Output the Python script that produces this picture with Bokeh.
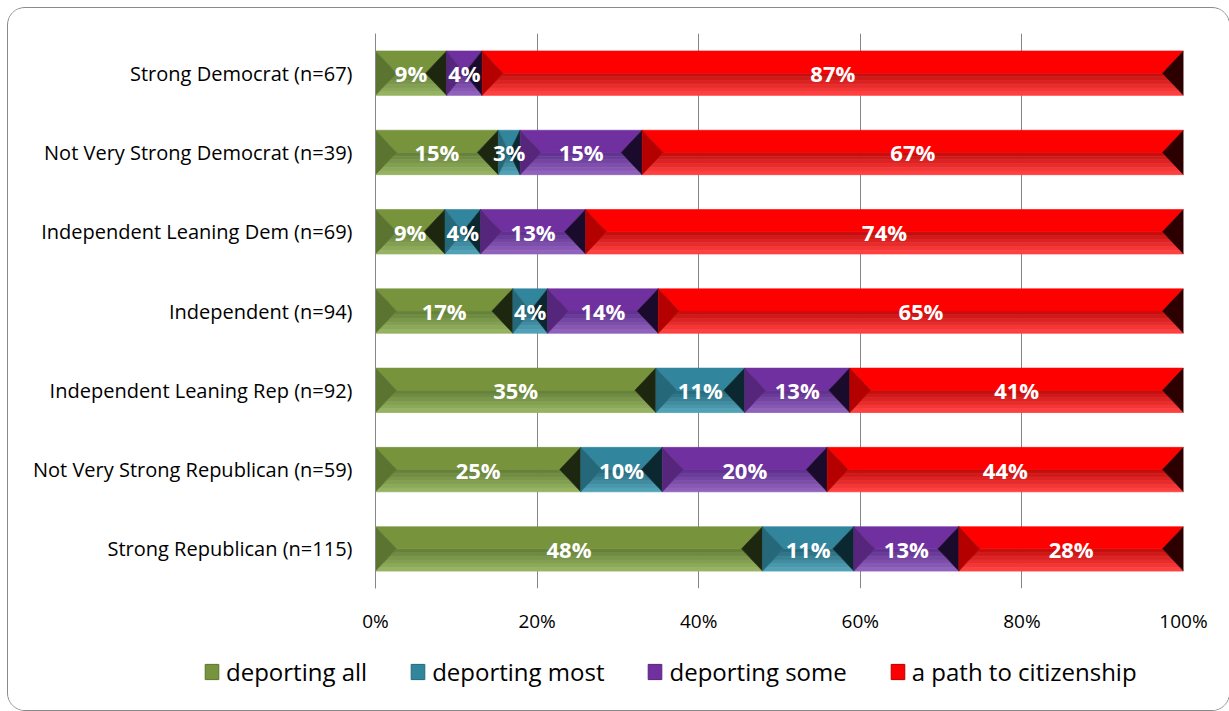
from bokeh.plotting import figure
from bokeh.layouts import column
from bokeh.models import ColumnDataSource, FixedTicker, Legend, LegendItem, Range1d
from bokeh.core.properties import value
from bokeh.embed import file_html
from bokeh.resources import INLINE

# ---------------- data ----------------
categories = [
    "Strong Democrat (n=67)",
    "Not Very Strong Democrat (n=39)",
    "Independent Leaning Dem (n=69)",
    "Independent (n=94)",
    "Independent Leaning Rep (n=92)",
    "Not Very Strong Republican (n=59)",
    "Strong Republican (n=115)",
]
series_names = ["deporting all", "deporting most", "deporting some", "a path to citizenship"]
deporting_all = [8.8, 15.2, 8.6, 17.0, 34.7, 25.4, 47.9]
deporting_most = [0.0, 2.7, 4.4, 4.3, 11.0, 10.1, 11.3]
deporting_some = [4.4, 15.1, 13.0, 13.7, 13.0, 20.4, 13.0]
path_to_citizenship = [86.8, 67.0, 74.0, 65.0, 41.3, 44.1, 27.8]
x_ticks = [0, 20, 40, 60, 80, 100]
x_tick_labels = ["0%", "20%", "40%", "60%", "80%", "100%"]

series_values = [deporting_all, deporting_most, deporting_some, path_to_citizenship]

# ---------------- styles ----------------
FONT = "Open Sans"
faces = {
    "deporting all": dict(top="#77933C", left="#5B7430", right="#1D270F", b1="#66823A", b2="#96B362"),
    "deporting most": dict(top="#31859C", left="#246879", right="#0B2830", b1="#286B7D", b2="#52A2B7"),
    "deporting some": dict(top="#7030A0", left="#56257C", right="#1A0A2B", b1="#613290", b2="#9062BC"),
    "a path to citizenship": dict(top="#FF0000", left="#B50000", right="#2C0000", b1="#C40F0F", b2="#FF4040"),
}
GRID = "#868686"
H = 0.56    # bar thickness (row units)
BX = 2.6    # bevel width (x units)
NB = 6      # bands used for the lower gradient


def mix(c1, c2, f):
    a = [int(c1[i:i + 2], 16) for i in (1, 3, 5)]
    b = [int(c2[i:i + 2], 16) for i in (1, 3, 5)]
    return "#%02x%02x%02x" % tuple(round(a[k] + (b[k] - a[k]) * f) for k in range(3))


n = len(categories)
ypos = [n - 1 - i for i in range(n)]

p = figure(frame_width=808, frame_height=555,
           x_range=Range1d(0, 100), y_range=Range1d(-0.5, n - 0.5),
           output_backend="svg", toolbar_location=None,
           min_border_left=367, min_border_right=46,
           min_border_top=25, min_border_bottom=55)
p.outline_line_color = None
p.background_fill_color = "white"
p.border_fill_color = "white"

# grid
p.xgrid.ticker = FixedTicker(ticks=x_ticks)
p.xgrid.grid_line_color = GRID
p.xgrid.grid_line_width = 1
p.ygrid.grid_line_color = None

# x axis
p.xaxis.ticker = FixedTicker(ticks=x_ticks)
p.xaxis.major_label_overrides = {t: l for t, l in zip(x_ticks, x_tick_labels)}
p.xaxis.axis_line_color = None
p.xaxis.major_tick_line_color = None
p.xaxis.major_tick_out = 0
p.xaxis.minor_tick_line_color = None
p.xaxis.major_label_standoff = 19
p.xaxis.major_label_text_font = FONT
p.xaxis.major_label_text_font_size = "19px"
p.xaxis.major_label_text_color = "black"

# y axis
p.yaxis.ticker = FixedTicker(ticks=ypos)
p.yaxis.major_label_overrides = {y: c for y, c in zip(ypos, categories)}
p.yaxis.axis_line_color = GRID
p.yaxis.major_tick_line_color = None
p.yaxis.major_tick_out = 0
p.yaxis.minor_tick_line_color = None
p.yaxis.major_label_standoff = 23
p.yaxis.major_label_text_font = FONT
p.yaxis.major_label_text_font_size = "20px"
p.yaxis.major_label_text_color = "black"

# bars with bevel faces
left_edge = [0.0] * n
lab_x, lab_y, lab_t = [], [], []
top_faces = {}
for name, vals in zip(series_names, series_values):
    fc = faces[name]
    keys = ["top", "left", "right"] + ["band%d" % k for k in range(NB)]
    polys = {k: ([], []) for k in keys}
    for i in range(n):
        v = vals[i]
        x0 = left_edge[i]
        x1 = x0 + v
        left_edge[i] = x1
        if v <= 0:
            continue
        yc = ypos[i]
        t = yc + H / 2
        bt = yc - H / 2
        b = min(BX, v / 2)
        polys["top"][0].append([x0, x1, x1 - b, x0 + b]); polys["top"][1].append([t, t, yc, yc])
        for k in range(NB):
            fa, fb = k / NB, (k + 1) / NB
            ya, yb = yc - fa * H / 2, yc - fb * H / 2
            polys["band%d" % k][0].append([x0 + b * (1 - fa), x1 - b * (1 - fa), x1 - b * (1 - fb), x0 + b * (1 - fb)])
            polys["band%d" % k][1].append([ya, ya, yb, yb])
        polys["left"][0].append([x0, x0 + b, x0]); polys["left"][1].append([t, yc, bt])
        polys["right"][0].append([x1, x1 - b, x1]); polys["right"][1].append([t, yc, bt])
        lab_x.append((x0 + x1) / 2); lab_y.append(yc); lab_t.append(f"{round(v)}%")
    for k in range(NB):
        col = mix(fc["b1"], fc["b2"], k / (NB - 1))
        xs, ys = polys["band%d" % k]
        p.patches(xs=xs, ys=ys, fill_color=col, line_color=col, line_width=0.8)
    for k in ("top", "left", "right"):
        xs, ys = polys[k]
        p.patches(xs=xs, ys=ys, fill_color=fc[k], line_color=fc[k], line_width=0.6)
    top_faces[name] = polys["top"]

labels = ColumnDataSource(dict(x=lab_x, y=lab_y, text=lab_t))
p.text(x="x", y="y", text="text", source=labels, text_align="center", text_baseline="middle",
       text_color="white", text_font=value(FONT), text_font_style="bold", text_font_size="22px")

# ---------------- legend strip (separate svg figure) ----------------
lf = figure(width=1221, height=67, x_range=Range1d(0, 100), y_range=Range1d(1000, 1001),
            output_backend="svg", toolbar_location=None, min_border=0,
            x_axis_location=None, y_axis_location=None)
lf.outline_line_color = None
lf.background_fill_color = "white"
lf.border_fill_color = "white"
lf.grid.grid_line_color = None
for fig in (p, lf):
    if "frame_align" in fig.properties():
        fig.frame_align = False
items = []
for name in series_names:
    xs, ys = top_faces[name]
    # same face polygons as the bars; this view range keeps them off-screen, they only feed the legend swatch
    r = lf.patches(xs=xs, ys=ys, fill_color=faces[name]["top"], line_color=faces[name]["left"])
    items.append(LegendItem(label=name, renderers=[r]))
legend = Legend(items=items, orientation="horizontal", location=(195, 22),
                glyph_width=17, glyph_height=19, label_standoff=6, spacing=42,
                label_text_font=FONT, label_text_font_size="24px", label_text_color="black",
                border_line_color=None, background_fill_alpha=0, padding=0, margin=0)
lf.add_layout(legend, "center")

page = column(p, lf, spacing=0,
              styles={"border": "1px solid #8a8a8a", "border-radius": "18px",
                      "margin": "7px 0 0 7px", "background": "white", "overflow": "hidden"})

open("out.html", "w").write(file_html(page, INLINE))
